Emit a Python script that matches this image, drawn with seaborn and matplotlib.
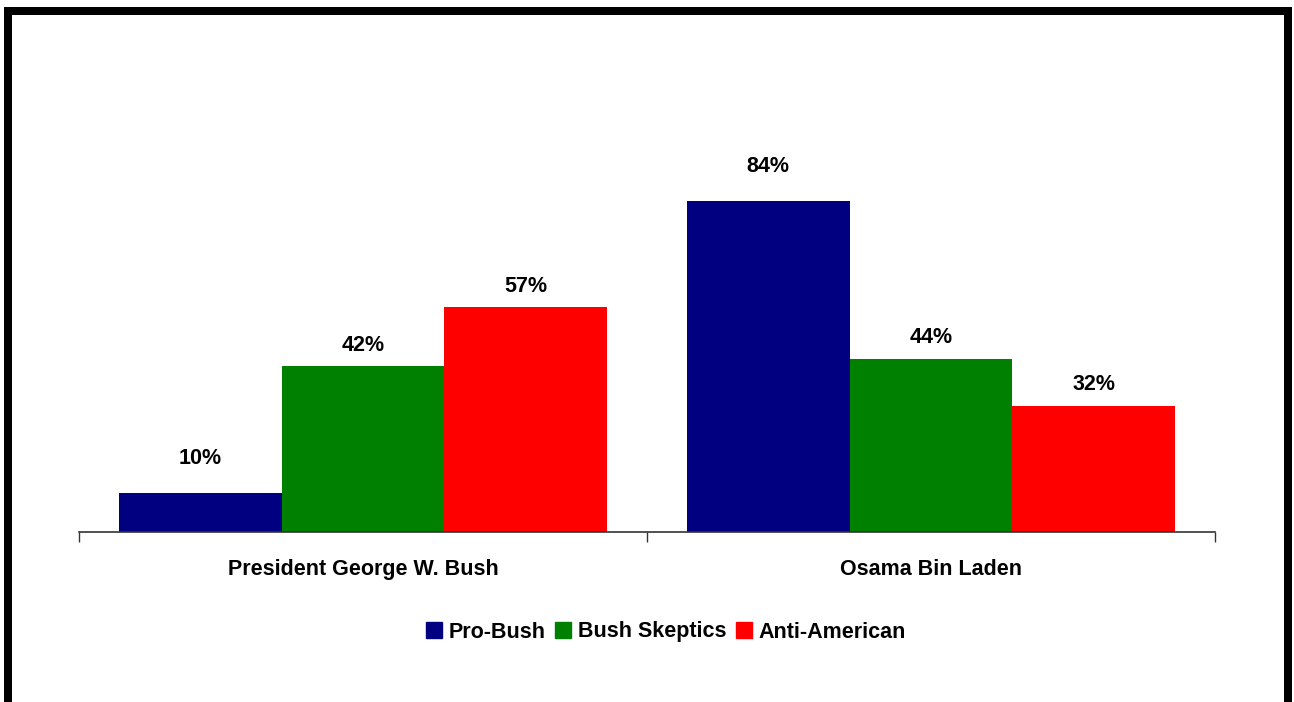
import matplotlib
matplotlib.use("Agg")
import matplotlib.pyplot as plt
from matplotlib.patches import Rectangle
import seaborn as sns
import pandas as pd

categories = ["President George W. Bush", "Osama Bin Laden"]
series = ["Pro-Bush", "Bush Skeptics", "Anti-American"]
pro_bush = [10, 84]
bush_skeptics = [42, 44]
anti_american = [57, 32]
colors = ["#000080", "#008000", "#FF0000"]

rows = []
for s, vals in zip(series, [pro_bush, bush_skeptics, anti_american]):
    for c, v in zip(categories, vals):
        rows.append({"category": c, "series": s, "value": v})
df = pd.DataFrame(rows)

sns.set_theme(style="white")
plt.rcParams["font.family"] = ["Liberation Sans", "DejaVu Sans"]
plt.rcParams["text.color"] = "black"
plt.rcParams["xtick.color"] = "black"

FS = 15.5
W, H = 1294, 702
fig = plt.figure(figsize=(W / 100, H / 100), dpi=100)
ax = fig.add_axes([79 / W, 1 - 532 / H, (1215 - 79) / W, (532 - 59) / H])

sns.barplot(data=df, x="category", y="value", hue="series", order=categories,
            hue_order=series, palette=colors, width=0.86, gap=0, saturation=1,
            ax=ax, legend=False, edgecolor="none", linewidth=0)

ax.set_xlim(-0.5, 1.5)
ax.set_ylim(0, 120)
ax.set_xlabel("")
ax.set_ylabel("")
ax.set_yticks([])
for sp in ["top", "right", "left"]:
    ax.spines[sp].set_visible(False)
ax.spines["bottom"].set_color("#333333")
ax.spines["bottom"].set_linewidth(1.2)

ax.set_xticks([-0.5, 0.5, 1.5])
ax.set_xticklabels([])
ax.tick_params(axis="x", which="major", direction="out", length=7, width=1,
               color="#333333", bottom=True)
ax.set_xticks([0, 1], minor=True)
ax.set_xticklabels(categories, minor=True, fontsize=FS, fontweight="bold",
                   color="black")
ax.tick_params(axis="x", which="minor", length=0, pad=19.5)

pads = [17, 7.5, 7.5]
for cont, p in zip(ax.containers, pads):
    ax.bar_label(cont, fmt="%.0f%%", padding=p, fontsize=FS, fontweight="bold",
                 color="black")

handles = [Rectangle((0, 0), 1, 1, color=c) for c in colors]
leg = fig.legend(handles, series, loc="center", bbox_to_anchor=(666 / W, 1 - 632 / H),
                 ncol=3, frameon=False, prop={"size": FS, "weight": "bold"},
                 handlelength=0.75, handleheight=0.75, handletextpad=0.3,
                 columnspacing=0.45)
for t in leg.get_texts():
    t.set_color("black")

# thick black border (top, left, right)
fig.add_artist(Rectangle((4 / W, 1 - 15 / H), (1292 - 4) / W, 8 / H,
                         transform=fig.transFigure, color="black", lw=0))
fig.add_artist(Rectangle((4 / W, 0), 8 / W, 1 - 7 / H,
                         transform=fig.transFigure, color="black", lw=0))
fig.add_artist(Rectangle((1284 / W, 0), 8 / W, 1 - 7 / H,
                         transform=fig.transFigure, color="black", lw=0))

fig.savefig("out.png", dpi=100)
